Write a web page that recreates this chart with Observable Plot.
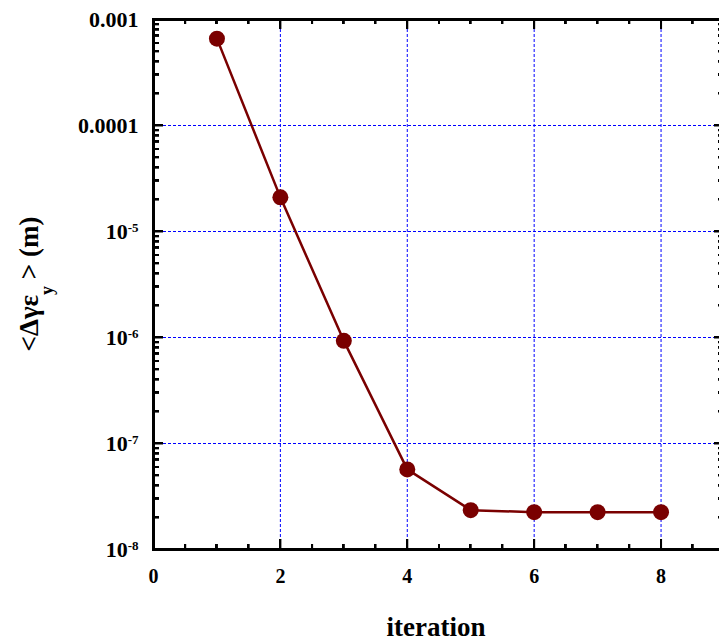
<!DOCTYPE html>
<html><head><meta charset="utf-8">
<script src="https://cdn.jsdelivr.net/npm/d3@7"></script>
<script src="https://cdn.jsdelivr.net/npm/@observablehq/plot@0.6"></script>
<style>body{margin:0;background:#fff} #chart svg{display:block;overflow:hidden}</style>
</head><body><div id="chart"></div>
<script>
// data
const iterations = [1, 2, 3, 4, 5, 6, 7, 8];
const emittance = [6.6e-4, 2.1e-5, 9.3e-7, 5.7e-8, 2.35e-8, 2.25e-8, 2.25e-8, 2.25e-8];
// ticks / labels
const xMajorTicks = [0, 2, 4, 6, 8];
const xMinorTicks = [0.5, 1, 1.5, 2.5, 3, 3.5, 4.5, 5, 5.5, 6.5, 7, 7.5, 8.5];
const xGrid = [2, 4, 6, 8];
const yMajorTicks = [1e-8, 1e-7, 1e-6, 1e-5, 1e-4, 1e-3];
const yTickLabels = ["10^-8", "10^-7", "10^-6", "10^-5", "0.0001", "0.001"];
const yGrid = [1e-7, 1e-6, 1e-5, 1e-4];
const yMinorMultipliers = [2, 3, 4, 5, 6, 7, 8, 9];
const yMinorTicks = yMajorTicks.slice(0, -1).flatMap(d => yMinorMultipliers.map(m => m * d));
const xDomain = [0, 9];
const yDomain = [1e-8, 1e-3];

const data = iterations.map((x, i) => ({x, y: emittance[i]}));
const font = "'Liberation Serif', 'Times New Roman', Times, serif";
const dark = "#7a0000";
const gridStyle = {stroke: "#0000ff", strokeWidth: 1, strokeDasharray: "3,2"};
const labelFor = v => yTickLabels[yMajorTicks.indexOf(v)];

// inward ticks: outward axis ticks shifted back inside the frame
const inX = (anchor, ticks, len) => Plot.axisX({anchor, ticks, tickSize: len, dy: anchor === "bottom" ? -len : len - 1,
  stroke: "black", strokeWidth: 2, fill: "none", label: null});
const inY = (anchor, ticks, len) => Plot.axisY({anchor, ticks, tickSize: len, dx: anchor === "left" ? len : -len - 1,
  stroke: "black", strokeWidth: 2, fill: "none", label: null});

const chart = Plot.plot({
  width: 719, height: 642,
  marginLeft: 153, marginRight: -5, marginTop: 19, marginBottom: 93,
  style: {fontFamily: font, fontWeight: "bold", fontSize: "22px", background: "white", color: "black"},
  x: {domain: xDomain},
  y: {type: "log", domain: yDomain},
  marks: [
    Plot.ruleX(xGrid, gridStyle),
    Plot.ruleY(yGrid, gridStyle),
    Plot.line(data, {x: "x", y: "y", stroke: dark, strokeWidth: 2.5}),
    Plot.dot(data, {x: "x", y: "y", r: 8, fill: dark, stroke: "none"}),
    Plot.frame({stroke: "black", strokeWidth: 3}),
    inX("bottom", xMajorTicks, 10),
    inX("bottom", xMinorTicks, 5),
    inX("top", xMajorTicks, 10),
    inX("top", xMinorTicks, 5),
    inY("left", yMajorTicks, 10),
    inY("left", yMinorTicks, 6),
    inY("right", yMajorTicks, 10),
    inY("right", yMinorTicks, 6),
    // labels
    Plot.axisX({anchor: "bottom", ticks: xMajorTicks, tickSize: 0, tickPadding: 19, fontSize: 20, label: null}),
    Plot.axisY({anchor: "left", ticks: yMajorTicks, tickSize: 0, tickPadding: 15, fontSize: 22, tickFormat: labelFor, label: null})
  ]
});
document.getElementById("chart").appendChild(chart);

const svg = d3.select(chart);
const xs = chart.scale("x"), ys = chart.scale("y");
const [fx0, fx1] = xs.range;
const [fyB, fyT] = ys.range;

// reinforce the inward ticks through the same Plot scales
const tk = svg.append("g").attr("stroke", "black").attr("stroke-width", 2).attr("shape-rendering", "crispEdges");
const xTickSet = [...xMajorTicks.map(v => [v, 10]), ...xMinorTicks.map(v => [v, 5])];
const yTickSet = [...yMajorTicks.map(v => [v, 10]), ...yMinorTicks.map(v => [v, 6])];
for (const [v, len] of xTickSet) {
  const px = Math.round(xs.apply(v));
  tk.append("line").attr("x1", px).attr("x2", px).attr("y1", fyB).attr("y2", fyB - len);
  tk.append("line").attr("x1", px).attr("x2", px).attr("y1", fyT).attr("y2", fyT + len);
}
for (const [v, len] of yTickSet) {
  const py = Math.round(ys.apply(v));
  tk.append("line").attr("y1", py).attr("y2", py).attr("x1", fx0).attr("x2", fx0 + len);
  tk.append("line").attr("y1", py).attr("y2", py).attr("x1", fx1).attr("x2", fx1 - len);
}

// superscripts in y tick labels
svg.selectAll('g[aria-label="y-axis tick label"] text').each(function() {
  const s = this.textContent;
  if (s.includes("^")) {
    const [base, exp] = s.split("^");
    const t = d3.select(this);
    t.text(null);
    t.append("tspan").text(base);
    t.append("tspan").attr("dy", "-7").attr("font-size", "13px").text(exp);
  }
});

const xMid = (fx0 + 719) / 2;
const yMid = (fyB + fyT) / 2;

svg.append("text")
  .attr("x", xMid).attr("y", 636)
  .attr("text-anchor", "middle")
  .attr("font-family", font).attr("font-weight", "bold").attr("font-size", "27px")
  .attr("fill", "black")
  .text("iteration");

const yt = svg.append("text")
  .attr("transform", `translate(38,${yMid}) rotate(-90)`)
  .attr("text-anchor", "middle")
  .attr("font-family", font).attr("font-weight", "bold").attr("font-size", "27px")
  .attr("fill", "black");
yt.append("tspan").text("<Δγε");
yt.append("tspan").attr("dy", "15").attr("font-size", "18px").text("y");
yt.append("tspan").attr("dy", "-15").text(" > (m)");
</script>
</body></html>
